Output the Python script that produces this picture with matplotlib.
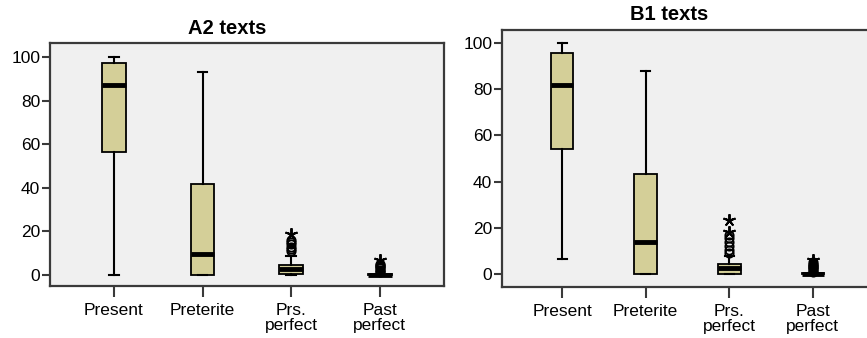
import matplotlib.pyplot as plt

plt.rcParams["font.family"] = ["Liberation Sans", "DejaVu Sans"]

categories = ["Present", "Preterite", "Prs.\nperfect", "Past\nperfect"]

# five-number summaries: whislo, q1, median, q3, whishi
a2_stats = [
    (0, 56.4, 87.0, 97.1, 100),
    (0, 0, 9.5, 41.7, 93.3),
    (0, 0.3, 2.8, 4.8, 8.5),
    (0, 0, 0.2, 0.4, 0.6),
]
b1_stats = [
    (6.3, 54.1, 81.8, 95.8, 100),
    (0, 0, 13.9, 43.3, 87.7),
    (0, 0.2, 2.7, 4.3, 7.8),
    (0, 0, 0.2, 0.4, 0.6),
]

# outliers (circles) and extremes (stars)
a2_outliers = [[], [], [11, 12, 13, 14, 15, 16], [1.5, 2, 2.5, 3, 3.5, 4, 4.5, 5]]
a2_extremes = [[], [], [19], [7]]
b1_outliers = [[], [], [9, 10.5, 12, 14, 15.5, 17], [1, 1.5, 2, 2.5, 3, 3.5, 4, 4.5, 5]]
b1_extremes = [[], [], [18, 23.5], [6]]

BOX_FILL = "#d4cf98"
PANEL_BG = "#f0f0f0"
SPINE = "#3a3a3a"


def draw_panel(ax, title, title_xy, stats, outliers, extremes, ylim):
    boxes = []
    for i, (lo, q1, med, q3, hi) in enumerate(stats):
        boxes.append(dict(whislo=lo, q1=q1, med=med, q3=q3, whishi=hi,
                          fliers=outliers[i], label=categories[i]))
    ax.bxp(boxes, positions=[1, 2, 3, 4], widths=0.27, patch_artist=True,
           boxprops=dict(facecolor=BOX_FILL, edgecolor="black", linewidth=1.3),
           medianprops=dict(color="black", linewidth=3.5),
           whiskerprops=dict(color="black", linewidth=1.5),
           capprops=dict(color="black", linewidth=1.5),
           capwidths=0.11,
           flierprops=dict(marker="o", markersize=6, markerfacecolor="none",
                           markeredgecolor="black", markeredgewidth=1.3))
    for i, vals in enumerate(extremes):
        if vals:
            ax.plot([i + 1] * len(vals), vals, linestyle="none", marker=(5, 2, 0),
                    markersize=9, markeredgecolor="black", markeredgewidth=1.4)
    ax.set_facecolor(PANEL_BG)
    ax.set_xlim(0.28, 4.72)
    ax.set_ylim(*ylim)
    ax.set_yticks([0, 20, 40, 60, 80, 100])
    ax.set_xticks([1, 2, 3, 4], categories, linespacing=1.05)
    for s in ax.spines.values():
        s.set_color(SPINE)
        s.set_linewidth(1.6)
    ax.tick_params(axis="y", length=6, width=1.5, color=SPINE, labelsize=12.5, pad=1)
    ax.tick_params(axis="x", length=8, width=1.5, color=SPINE, labelsize=12.5, pad=4)
    ax.figure.text(title_xy[0], title_xy[1], title, ha="center", va="center",
                   fontsize=14.5, fontweight="bold")


fig = plt.figure(figsize=(8.67, 3.38), dpi=100)
ax1 = fig.add_axes((0.0577, 0.154, 0.454, 0.719))
ax2 = fig.add_axes((0.579, 0.151, 0.428, 0.760))

draw_panel(ax1, "A2 texts", (227 / 867, 1 - 29 / 338),
           a2_stats, a2_outliers, a2_extremes, (-5.0, 106.4))
draw_panel(ax2, "B1 texts", (669 / 867, 1 - 15 / 338),
           b1_stats, b1_outliers, b1_extremes, (-5.6, 105.6))

fig.savefig("out.png", dpi=100)
